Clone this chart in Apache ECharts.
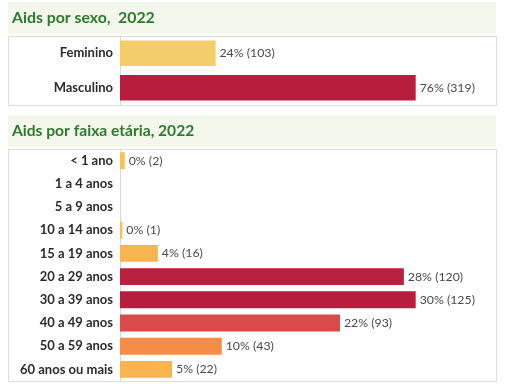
<!DOCTYPE html>
<html>
<head>
<meta charset="utf-8">
<script src="https://cdn.jsdelivr.net/npm/echarts@6/dist/echarts.min.js"></script>
<style>
html,body{margin:0;padding:0;background:#fff;}
#c{width:506px;height:384px;}
</style>
</head>
<body>
<div id="c"></div>
<script>
const sexTitle = 'Aids por sexo,  2022';
const sexCategories = ['Feminino', 'Masculino'];
const sexCounts = [103, 319];
const sexPct = [24, 76];
const sexColors = ['#f2cd6a', '#b81d3d'];

const ageTitle = 'Aids por faixa etária, 2022';
const ageCategories = ['< 1 ano', '1 a 4 anos', '5 a 9 anos', '10 a 14 anos', '15 a 19 anos', '20 a 29 anos', '30 a 39 anos', '40 a 49 anos', '50 a 59 anos', '60 anos ou mais'];
const ageCounts = [2, 0, 0, 1, 16, 120, 125, 93, 43, 22];
const agePct = [0, 0, 0, 0, 4, 28, 30, 22, 10, 5];
const ageColors = ['#f2c45e', '#f2c45e', '#f2c45e', '#f2c45e', '#f7b451', '#b8213d', '#b81d3d', '#d94b4a', '#f68d46', '#f7b451'];

const FONT = 'Lato, "Open Sans", sans-serif';
const chart = echarts.init(document.getElementById('c'), null, {renderer: 'canvas'});

function mkData(counts, colors) {
  return counts.map((v, i) => ({value: v, itemStyle: {color: colors[i]}}));
}
function mkLabel(counts, pct) {
  return {
    show: true, position: 'right', distance: 4,
    color: '#4a4a4a', fontFamily: FONT, fontSize: 12.3,
    formatter: p => counts[p.dataIndex] > 0 ? pct[p.dataIndex] + '% (' + counts[p.dataIndex] + ')' : ''
  };
}
const catAxisCommon = {
  type: 'category', inverse: true,
  axisLine: {show: true, lineStyle: {color: '#d8d8d8'}},
  axisTick: {show: false},
  axisLabel: {color: '#2b2b2b', fontWeight: 'bold', fontFamily: FONT, fontSize: 13, margin: 7}
};
const valAxisCommon = {
  type: 'value', min: 0, max: v => v.max * 1.275,
  show: false, splitLine: {show: false}
};

chart.setOption({
  animation: false,
  graphic: [
    {type: 'rect', shape: {x: 8, y: 2, width: 488, height: 32}, style: {fill: '#f4f8ec'}, silent: true},
    {type: 'text', x: 12, y: 18, style: {text: sexTitle, fill: '#2d7a2d', font: 'bold 15.8px ' + FONT, textVerticalAlign: 'middle'}},
    {type: 'rect', shape: {x: 8.5, y: 36.5, width: 488, height: 69}, style: {fill: 'none', stroke: '#dcdcdc', lineWidth: 1}, silent: true},
    {type: 'rect', shape: {x: 8, y: 115, width: 488, height: 32}, style: {fill: '#f4f8ec'}, silent: true},
    {type: 'text', x: 12, y: 131, style: {text: ageTitle, fill: '#2d7a2d', font: 'bold 15.6px ' + FONT, textVerticalAlign: 'middle'}},
    {type: 'rect', shape: {x: 8.5, y: 149.5, width: 488, height: 232}, style: {fill: 'none', stroke: '#dcdcdc', lineWidth: 1}, silent: true}
  ],
  grid: [
    {left: 120, top: 36, width: 377, height: 69},
    {left: 120, top: 149, width: 377, height: 232}
  ],
  xAxis: [
    Object.assign({gridIndex: 0}, valAxisCommon),
    Object.assign({gridIndex: 1}, valAxisCommon)
  ],
  yAxis: [
    Object.assign({gridIndex: 0, data: sexCategories}, catAxisCommon),
    Object.assign({gridIndex: 1, data: ageCategories}, catAxisCommon)
  ],
  series: [
    {type: 'bar', xAxisIndex: 0, yAxisIndex: 0, data: mkData(sexCounts, sexColors), barCategoryGap: '26%', label: mkLabel(sexCounts, sexPct)},
    {type: 'bar', xAxisIndex: 1, yAxisIndex: 1, data: mkData(ageCounts, ageColors), barCategoryGap: '27%', label: mkLabel(ageCounts, agePct)}
  ]
});
</script>
</body>
</html>
